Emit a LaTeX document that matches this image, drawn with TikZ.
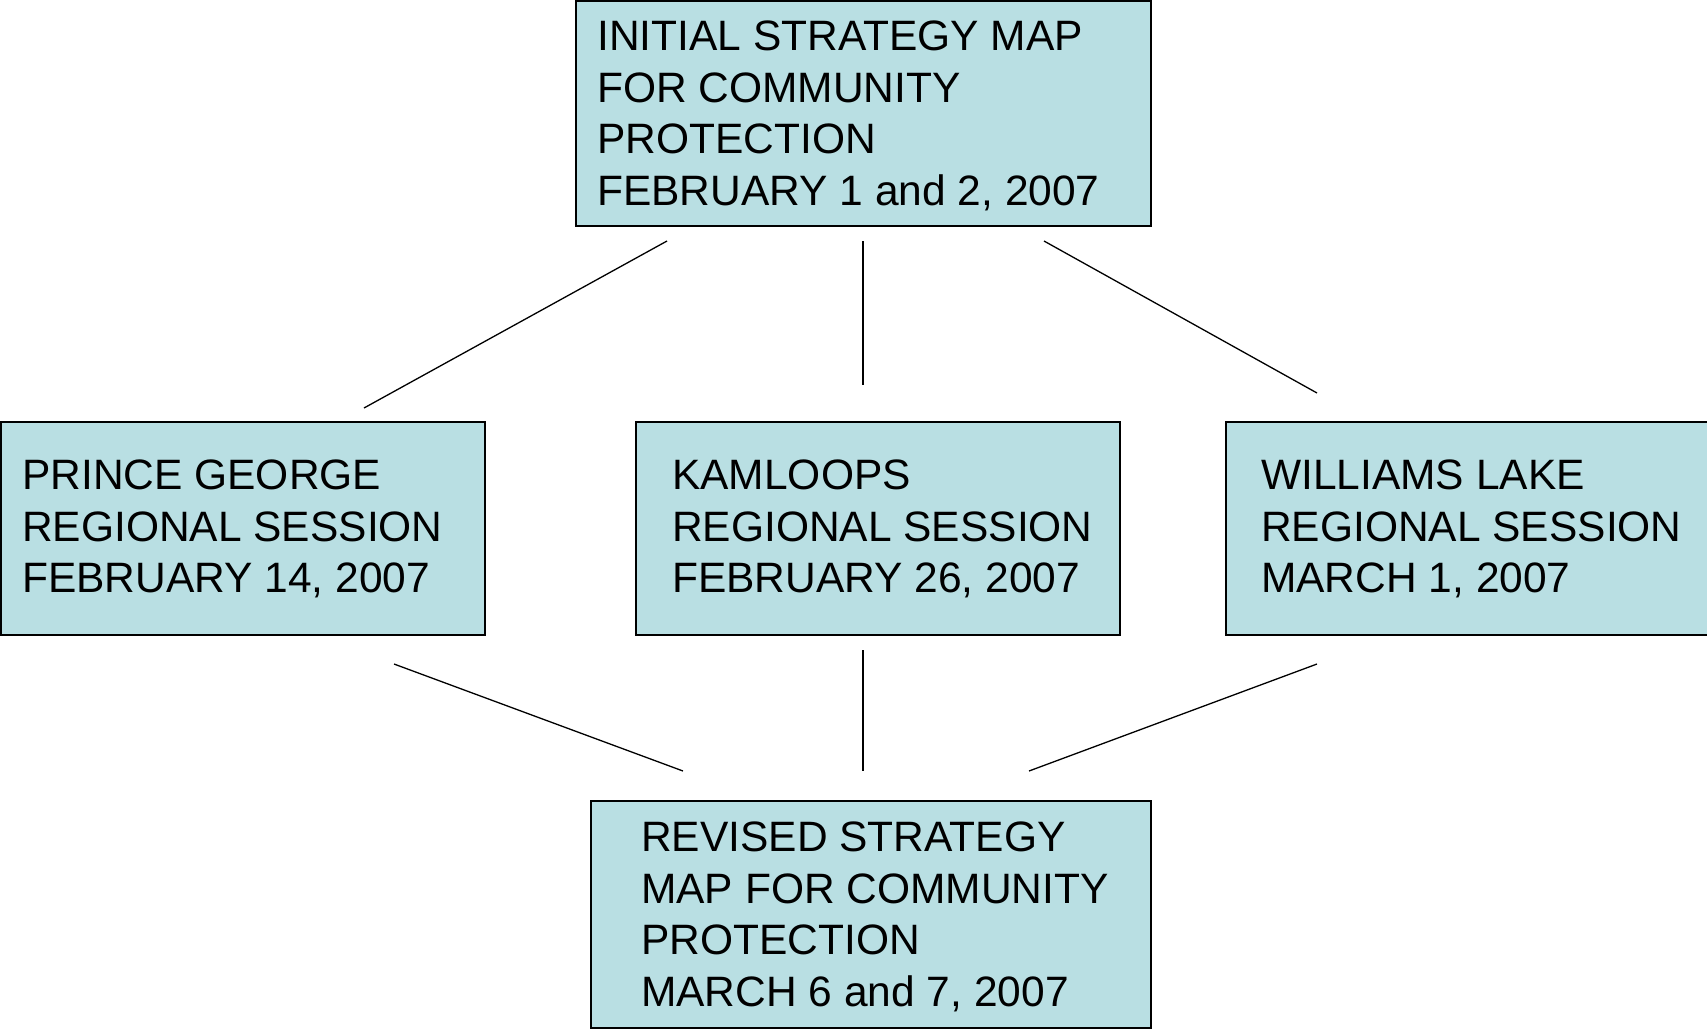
\documentclass[tikz,border=0pt]{standalone}
\usepackage{fontspec}
\setmainfont{Liberation Sans}
\definecolor{boxfill}{HTML}{B9DFE3}
\begin{document}
\begin{tikzpicture}[x=1pt,y=-1pt,
  box/.style={draw=black, line width=1.5pt, fill=boxfill, inner sep=0pt},
  txt/.style={anchor=north west, inner sep=0pt, align=left, font=\fontsize{42.5}{51.5}\selectfont},
  conn/.style={draw=black, line width=1.3pt}]
\useasboundingbox (0,0) rectangle (1707,1029);
% boxes
\node[box, minimum width=575pt, minimum height=225pt] (top) at (863.5,113.5) {};
\node[box, minimum width=484pt, minimum height=213pt] (pg) at (243,528.5) {};
\node[box, minimum width=484pt, minimum height=213pt] (ka) at (878,528.5) {};
\node[box, minimum width=494pt, minimum height=213pt] (wl) at (1473,528.5) {};
\node[box, minimum width=560pt, minimum height=227pt] (rev) at (871,914.5) {};
% texts
\node[txt] (topt) at (597,21) {INITIAL STRATEGY MAP\\FOR COMMUNITY\\PROTECTION\\FEBRUARY 1 and 2, 2007};
\node[txt] (pgt) at (22,460) {PRINCE GEORGE\\REGIONAL SESSION\\FEBRUARY 14, 2007};
\node[txt] (kat) at (672,460) {KAMLOOPS\\REGIONAL SESSION\\FEBRUARY 26, 2007};
\node[txt] (wlt) at (1261,460) {WILLIAMS LAKE\\REGIONAL SESSION\\MARCH 1, 2007};
\node[txt] (revt) at (641,822) {REVISED STRATEGY\\MAP FOR COMMUNITY\\PROTECTION\\MARCH 6 and 7, 2007};
% connector ends
\coordinate (t1) at (667,241);
\coordinate (t2) at (863,241);
\coordinate (t3) at (1044,241);
\coordinate (m1) at (364,408);
\coordinate (m2) at (863,385);
\coordinate (m3) at (1317,393);
\coordinate (n1) at (394,664);
\coordinate (n2) at (863,650);
\coordinate (n3) at (1317,664);
\coordinate (b1) at (683,771);
\coordinate (b2) at (863,771);
\coordinate (b3) at (1029,771);
\draw[conn] (t1) -- (m1);
\draw[conn] (t2) -- (m2);
\draw[conn] (t3) -- (m3);
\draw[conn] (n1) -- (b1);
\draw[conn] (n2) -- (b2);
\draw[conn] (n3) -- (b3);
\end{tikzpicture}
\end{document}
